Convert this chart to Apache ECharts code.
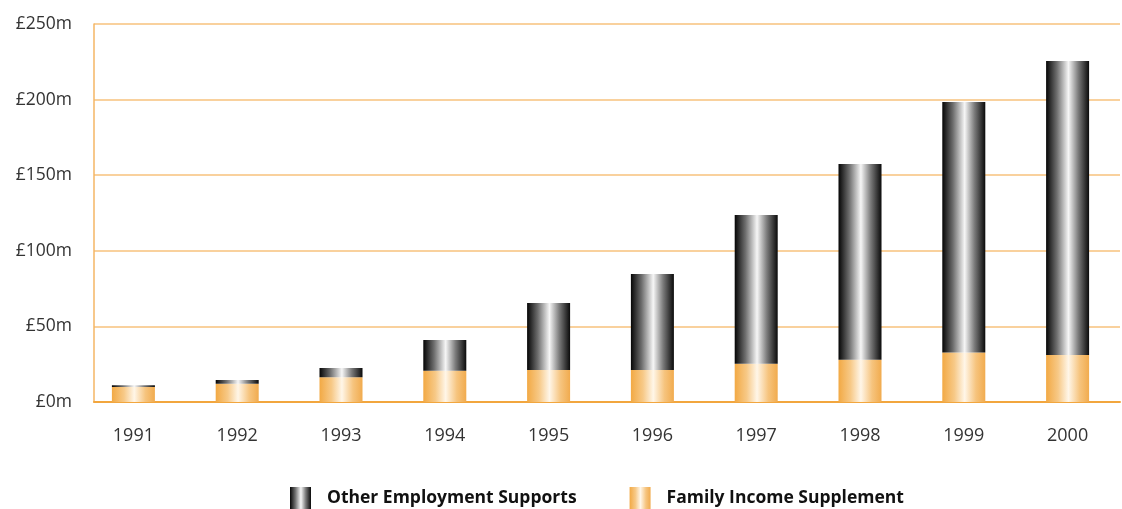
<!DOCTYPE html>
<html>
<head>
<meta charset="utf-8">
<script src="https://cdn.jsdelivr.net/npm/echarts@6/dist/echarts.min.js"></script>
<style>
  html, body { margin: 0; padding: 0; background: #ffffff; }
  #chart { width: 1122px; height: 509px; }
</style>
</head>
<body>
<div id="chart"></div>
<script>
// values in £m
const years = ["1991", "1992", "1993", "1994", "1995", "1996", "1997", "1998", "1999", "2000"];
const familyIncome = [10, 12.1, 16.3, 20.7, 21.2, 21.1, 25.3, 28, 32.8, 31.1];
const otherSupports = [1, 2.4, 6.2, 20.3, 44.3, 63.6, 98.4, 129.4, 165.6, 194.4];
const yTicks = [0, 50, 100, 150, 200, 250];

const chart = echarts.init(document.getElementById("chart"));

const greyFill = new echarts.graphic.LinearGradient(0, 0, 1, 0, [
  { offset: 0, color: "#050505" },
  { offset: 0.25, color: "#6e6e6e" },
  { offset: 0.52, color: "#f6f6f6" },
  { offset: 0.75, color: "#7a7a7a" },
  { offset: 1, color: "#0a0a0a" }
]);
const orangeFill = new echarts.graphic.LinearGradient(0, 0, 1, 0, [
  { offset: 0, color: "#f2a944" },
  { offset: 0.28, color: "#f7c987" },
  { offset: 0.52, color: "#fff6e8" },
  { offset: 0.78, color: "#f6c47e" },
  { offset: 1, color: "#f1ab4e" }
]);

const font = "'Open Sans', 'Noto Sans', sans-serif";

chart.setOption({
  animation: false,
  grid: [
    // grid 0: axis frame and gridlines
    { left: 94, right: 2, top: 24, bottom: 107 },
    // grid 1: bars and year labels
    { left: 81.5, right: 2.5, top: 24, bottom: 107 }
  ],
  legend: {
    left: 290,
    top: 487,
    padding: 0,
    icon: "rect",
    itemWidth: 21,
    itemHeight: 22,
    itemGap: 53,
    data: ["Other Employment Supports", "Family Income Supplement"],
    textStyle: {
      fontFamily: font,
      fontSize: 17.5,
      fontWeight: "bold",
      color: "#111111",
      padding: [0, 0, 0, 11]
    }
  },
  xAxis: [
    {
      gridIndex: 0,
      type: "value",
      min: 0,
      max: 1,
      axisLine: { show: true, lineStyle: { color: "#f2a63e", width: 2 } },
      axisTick: { show: false },
      axisLabel: { show: false },
      splitLine: { show: false }
    },
    {
      gridIndex: 1,
      type: "category",
      data: years,
      axisLine: { show: false },
      axisTick: { show: false },
      axisLabel: {
        margin: 25,
        fontFamily: font,
        fontSize: 18,
        color: "#333333"
      }
    }
  ],
  yAxis: [
    {
      gridIndex: 0,
      type: "value",
      min: yTicks[0],
      max: yTicks[yTicks.length - 1],
      interval: 50,
      axisLine: { show: true, lineStyle: { color: "#f5b665", width: 1.5 } },
      axisTick: { show: false },
      splitLine: { show: true, lineStyle: { color: "#f7c27d", width: 1.5 } },
      axisLabel: {
        margin: 22,
        fontFamily: font,
        fontSize: 17.5,
        color: "#333333",
        formatter: v => "£" + v + "m"
      }
    },
    {
      gridIndex: 1,
      type: "value",
      min: yTicks[0],
      max: yTicks[yTicks.length - 1],
      show: false
    }
  ],
  series: [
    {
      name: "Family Income Supplement",
      type: "bar",
      stack: "total",
      xAxisIndex: 1,
      yAxisIndex: 1,
      barWidth: 43,
      itemStyle: { color: orangeFill },
      data: familyIncome
    },
    {
      name: "Other Employment Supports",
      type: "bar",
      stack: "total",
      xAxisIndex: 1,
      yAxisIndex: 1,
      barWidth: 43,
      itemStyle: { color: greyFill },
      data: otherSupports
    }
  ]
});
</script>
</body>
</html>
